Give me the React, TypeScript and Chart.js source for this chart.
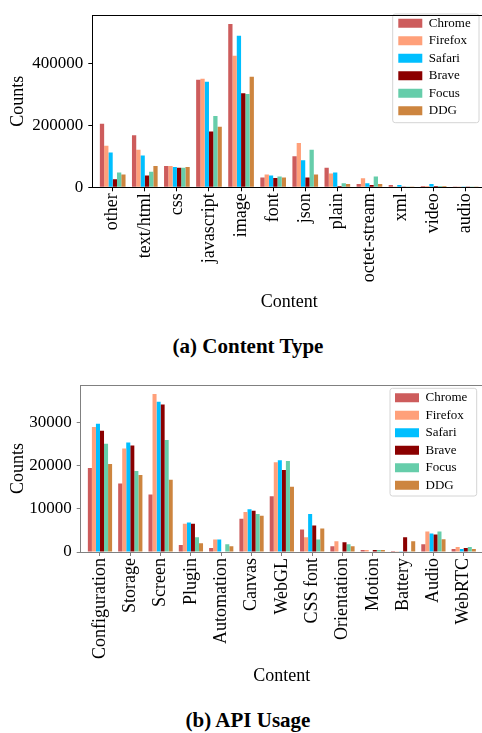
import React, { useEffect, useRef } from 'react';
import { Chart, registerables } from 'chart.js';

Chart.register(...registerables);
Chart.defaults.font.family = "'Liberation Serif', 'Times New Roman', serif";
Chart.defaults.color = '#000';

const seriesNames = ['Chrome', 'Firefox', 'Safari', 'Brave', 'Focus', 'DDG'];
const seriesColors = ['#CD5C5C', '#FFA07A', '#00BFFF', '#8B0000', '#66CDAA', '#CD853F'];

// (a) Content Type
const contentCategories = ['other', 'text/html', 'css', 'javascript', 'image', 'font', 'json', 'plain', 'octet-stream', 'xml', 'video', 'audio'];
const contentChrome = [205600, 168400, 69200, 348100, 528900, 32000, 100200, 63000, 10300, 7200, 4000, 400];
const contentFirefox = [134300, 121900, 69200, 351200, 425600, 41300, 143600, 44400, 28900, 800, 4000, 300];
const contentSafari = [112600, 103300, 66100, 341900, 490700, 38200, 87800, 47500, 13400, 7200, 10300, 300];
const contentBrave = [25800, 38200, 63000, 180800, 304700, 30000, 32000, 4000, 7200, 800, 4000, 200];
const contentFocus = [47500, 50600, 63000, 230400, 301600, 35100, 121900, 13400, 35100, 800, 4000, 200];
const contentDDG = [41300, 69200, 66100, 196300, 357400, 32000, 41300, 10300, 10300, 500, 4000, 200];
const contentYTicks = [0, 200000, 400000];
const contentYMax = 557000;

// (b) API Usage
const apiCategories = ['Configuration', 'Storage', 'Screen', 'Plugin', 'Automation', 'Canvas', 'WebGL', 'CSS font', 'Orientation', 'Motion', 'Battery', 'Audio', 'WebRTC'];
const apiChrome = [19400, 15800, 13300, 1600, 900, 7700, 12900, 5200, 1350, 450, 220, 1800, 680];
const apiFirefox = [28900, 23900, 36500, 6500, 2900, 9250, 20750, 3400, 2500, 450, 50, 4750, 1130];
const apiSafari = [29600, 25300, 34700, 6800, 2900, 9900, 21200, 8800, 100, 100, 50, 4300, 680];
const apiBrave = [28000, 24600, 34100, 6500, 100, 9500, 18950, 6100, 2250, 450, 3400, 4070, 900];
const apiFocus = [25000, 18700, 25900, 3400, 1800, 8800, 21000, 2900, 1800, 450, 50, 4750, 1130];
const apiDDG = [20300, 17800, 16700, 2000, 1350, 8350, 15100, 5400, 1350, 450, 2490, 2940, 680];
const apiYTicks = [0, 10000, 20000, 30000];
const apiYMax = 38530;

type Geo = {
  width: number;
  height: number;
  yWidth: number;
  top: number;
  xHeight: number;
  rightPad: number;
  axisColor: string;
  xTitlePad: number;
  legendX: number;
  legendY: number;
  frame: [number, number, number, number];
};

const figurePlugin = {
  id: 'figureFrame',
  afterLayout(chart: any, _args: any, opts: any) {
    const lg = chart.legend;
    if (!lg) return;
    const p = 4.5;
    lg.left = opts.legendX - p;
    lg.top = opts.legendY - 11;
    lg.right = lg.left + 110;
    lg.bottom = lg.top + 120;
    lg.width = 110;
    lg.height = 120;
  },
  beforeDraw(chart: any, _args: any, opts: any) {
    const ctx = chart.ctx;
    const [x, y, w, h] = opts.frame;
    const r = 2.5;
    ctx.save();
    ctx.beginPath();
    ctx.moveTo(x + r, y);
    ctx.lineTo(x + w - r, y);
    ctx.arcTo(x + w, y, x + w, y + r, r);
    ctx.lineTo(x + w, y + h - r);
    ctx.arcTo(x + w, y + h, x + w - r, y + h, r);
    ctx.lineTo(x + r, y + h);
    ctx.arcTo(x, y + h, x, y + h - r, r);
    ctx.lineTo(x, y + r);
    ctx.arcTo(x, y, x + r, y, r);
    ctx.closePath();
    ctx.fillStyle = 'rgba(255,255,255,0.8)';
    ctx.fill();
    ctx.strokeStyle = '#d4d4d4';
    ctx.lineWidth = 1;
    ctx.stroke();
    ctx.restore();
  },
  afterDraw(chart: any, _args: any, opts: any) {
    const { left, right, top, bottom } = chart.chartArea;
    const ctx = chart.ctx;
    ctx.save();
    ctx.strokeStyle = opts.axisColor;
    ctx.lineWidth = 1;
    ctx.beginPath();
    const yt = Math.round(top) + 0.5;
    ctx.moveTo(left, yt);
    ctx.lineTo(right, yt);
    const xr = Math.round(right) - 0.5;
    ctx.moveTo(xr, top);
    ctx.lineTo(xr, bottom);
    ctx.stroke();
    ctx.restore();
  },
};

function buildConfig(cats: string[], series: number[][], yTicks: number[], yMax: number, g: Geo): any {
  const n = cats.length;
  return {
    type: 'bar',
    data: {
      datasets: series.map((vals, k) => ({
        label: seriesNames[k],
        data: vals.map((v, i) => ({ x: i, y: v })),
        backgroundColor: seriesColors[k],
        borderWidth: 0,
        categoryPercentage: 0.8,
        barPercentage: 1,
      })),
    },
    plugins: [figurePlugin],
    options: {
      responsive: false,
      animation: false,
      events: [],
      layout: { padding: { left: 0, top: g.top, right: g.rightPad, bottom: 0 } },
      scales: {
        x: {
          type: 'linear',
          offset: false,
          min: -0.636,
          max: n - 1 + 0.636,
          afterBuildTicks: (s: any) => {
            s.ticks = cats.map((_, i) => ({ value: i }));
          },
          afterFit: (s: any) => {
            s.height = g.xHeight;
          },
          ticks: {
            autoSkip: false,
            minRotation: 90,
            maxRotation: 90,
            padding: 2,
            color: '#000',
            font: { size: 18 },
            callback: (v: number) => cats[v] ?? '',
          },
          grid: { display: true, drawOnChartArea: false, drawTicks: true, tickLength: 4, color: g.axisColor, offset: false },
          border: { display: true, color: g.axisColor, width: 1 },
          title: { display: true, text: 'Content', color: '#000', font: { size: 18 }, padding: { top: 0, bottom: g.xTitlePad } },
        },
        y: {
          type: 'linear',
          min: 0,
          max: yMax,
          afterBuildTicks: (s: any) => {
            s.ticks = yTicks.map((v) => ({ value: v }));
          },
          afterFit: (s: any) => {
            s.width = g.yWidth;
          },
          ticks: { padding: 5, color: '#000', font: { size: 17 }, callback: (v: number) => String(v) },
          grid: { display: true, drawOnChartArea: false, drawTicks: true, tickLength: 4, color: g.axisColor },
          border: { display: true, color: g.axisColor, width: 1 },
          title: { display: true, text: 'Counts', color: '#000', font: { size: 18 }, padding: { top: 7.2, bottom: 0 } },
        },
      },
      plugins: {
        legend: {
          position: 'chartArea',
          align: 'start',
          labels: { boxWidth: 24, boxHeight: 9, padding: 4.5, color: '#000', font: { size: 13 } },
        },
        tooltip: { enabled: false },
        figureFrame: { legendX: g.legendX, legendY: g.legendY, frame: g.frame, axisColor: g.axisColor },
      },
    },
  };
}

function BarFigure(props: { cats: string[]; series: number[][]; yTicks: number[]; yMax: number; geo: Geo; top: number }) {
  const ref = useRef<HTMLCanvasElement | null>(null);
  const { cats, series, yTicks, yMax, geo, top } = props;
  useEffect(() => {
    if (!ref.current) return;
    const chart = new Chart(ref.current, buildConfig(cats, series, yTicks, yMax, geo));
    return () => chart.destroy();
  }, []);
  return (
    <canvas
      ref={ref}
      width={geo.width}
      height={geo.height}
      style={{ position: 'absolute', left: 0, top, width: geo.width, height: geo.height, display: 'block' }}
    />
  );
}

const geoA: Geo = {
  width: 490,
  height: 330,
  yWidth: 92.3,
  top: 7.7,
  xHeight: 330 - 187.3,
  rightPad: 3.9,
  axisColor: '#000000',
  xTitlePad: 16.5,
  legendX: 398.3,
  legendY: 23.3,
  frame: [392.7, 14, 86.3, 108.7],
};

const geoB: Geo = {
  width: 490,
  height: 320,
  yWidth: 80.7,
  top: 11.7,
  xHeight: 370 + 320 - 552,
  rightPad: 7,
  axisColor: '#808080',
  xTitlePad: 2.5,
  legendX: 395,
  legendY: 27.7,
  frame: [390, 18.3, 86.7, 107.7],
};

const captionStyle: React.CSSProperties = {
  position: 'absolute',
  left: 0,
  width: 496,
  textAlign: 'center',
  fontFamily: "'Liberation Serif', serif",
  fontWeight: 'bold',
  fontSize: 21,
  lineHeight: '24px',
  color: '#000',
  whiteSpace: 'nowrap',
};

export default function App() {
  return (
    <div style={{ position: 'absolute', left: 0, top: 0, width: 482, height: 733, overflow: 'hidden', background: '#fff' }}>
      <BarFigure
        cats={contentCategories}
        series={[contentChrome, contentFirefox, contentSafari, contentBrave, contentFocus, contentDDG]}
        yTicks={contentYTicks}
        yMax={contentYMax}
        geo={geoA}
        top={0}
      />
      <div style={{ ...captionStyle, top: 333.7 }}>(a) Content Type</div>
      <BarFigure
        cats={apiCategories}
        series={[apiChrome, apiFirefox, apiSafari, apiBrave, apiFocus, apiDDG]}
        yTicks={apiYTicks}
        yMax={apiYMax}
        geo={geoB}
        top={370}
      />
      <div style={{ ...captionStyle, top: 708 }}>(b) API Usage</div>
    </div>
  );
}
